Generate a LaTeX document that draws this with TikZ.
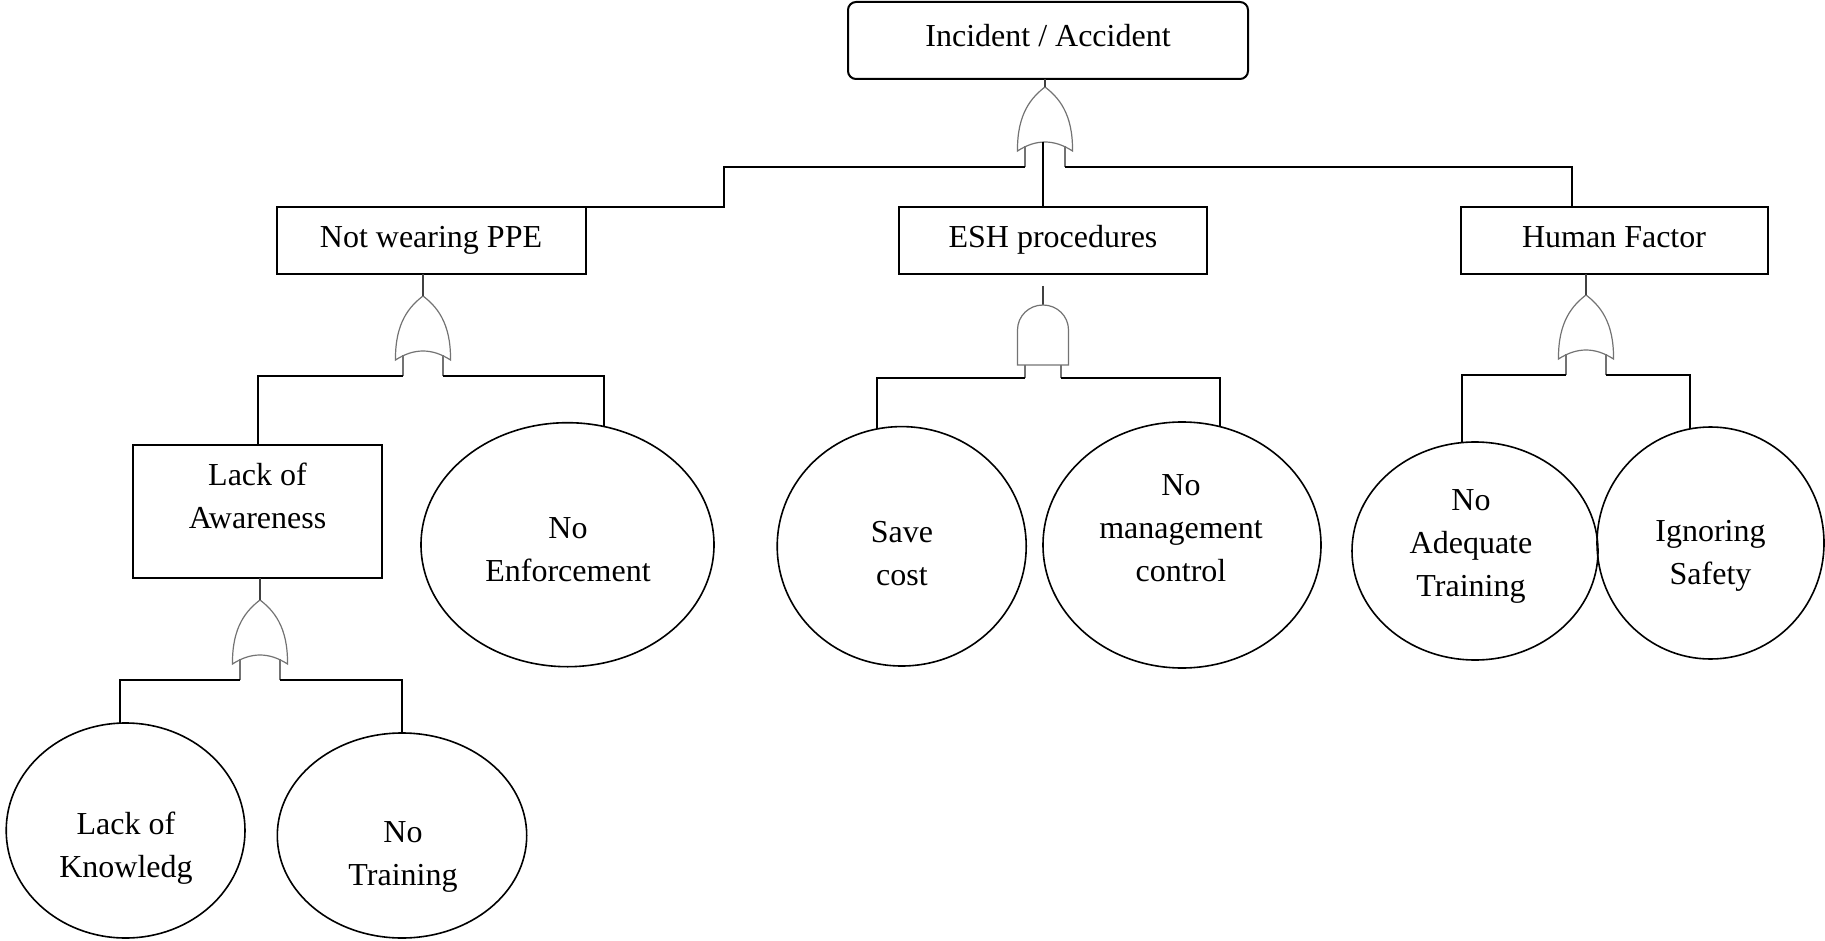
\documentclass[tikz,border=0pt]{standalone}
\usepackage{fontspec}
\setmainfont{Liberation Serif}
\usetikzlibrary{shapes.geometric}

% or gate: tip at #2, legs end 80 below
\newcommand{\orgate}[2]{%
\begin{scope}[shift={(#2)}]
\draw[gate] (-27.5,64) .. controls (-28,26) and (-13,10) .. (0,0) .. controls (13,10) and (28,26) .. (27.5,64) .. controls (9,52) and (-9,52) .. cycle;
\draw[gate] (-20,59) -- (-20,80) coordinate (#1-l);
\draw[gate] (20,59) -- (20,80) coordinate (#1-r);
\coordinate (#1-t) at (0,0);
\coordinate (#1-c) at (-2,55);
\end{scope}}

% and gate: dome top at #2
\newcommand{\andgate}[2]{%
\begin{scope}[shift={(#2)}]
\draw[stem] (0,-19) -- (0,0);
\draw[gate] (-25.5,60) -- (-25.5,25) .. controls (-25.5,11) and (-14,0) .. (0,0) .. controls (14,0) and (25.5,11) .. (25.5,25) -- (25.5,60) -- cycle;
\draw[gate] (-18,60) -- (-18,73) coordinate (#1-l);
\draw[gate] (18,60) -- (18,73) coordinate (#1-r);
\coordinate (#1-t) at (0,0);
\end{scope}}

\begin{document}
\begin{tikzpicture}[x=0.5pt, y=-0.5pt]
\tikzstyle{box} = [draw, line width=1pt, rectangle, inner sep=0pt, outer sep=0pt]
\tikzstyle{event} = [draw, line width=0.8pt, ellipse, inner sep=0pt, outer sep=0pt]
\tikzstyle{txt} = [inner sep=0pt, anchor=south, align=center, text depth=0pt, font=\fontsize{16pt}{21.5pt}\selectfont]
\tikzstyle{conn} = [line width=1pt]
\tikzstyle{gate} = [draw=black!55, line width=0.6pt]
\tikzstyle{stem} = [draw=black!75, line width=0.6pt]
\useasboundingbox (0,0) rectangle (1825,941);

% boxes
\node[box, rounded corners=4pt, minimum width=200pt, minimum height=38.5pt] (top) at (1048,40.5) {};
\node[box, minimum width=154.5pt, minimum height=33.5pt] (ppe) at (431.5,240.5) {};
\node[box, minimum width=154.25pt, minimum height=33.5pt] (esh) at (1053,240.5) {};
\node[box, minimum width=153.5pt, minimum height=33.5pt] (hf) at (1614.5,240.5) {};
\node[box, minimum width=124.5pt, minimum height=66.5pt] (loa) at (257.5,511.5) {};

% basic events
\node[event, minimum width=146.5pt, minimum height=122pt] (ne) at (567.5,544.7) {};
\node[event, minimum width=124.5pt, minimum height=119.7pt] (sc) at (901.7,546.3) {};
\node[event, minimum width=139pt, minimum height=123pt] (mc) at (1182,545) {};
\node[event, minimum width=123pt, minimum height=109pt] (at) at (1475,551) {};
\node[event, minimum width=113.5pt, minimum height=116pt] (is) at (1710.5,543) {};
\node[event, minimum width=119.4pt, minimum height=107.5pt] (lk) at (125.6,830.5) {};
\node[event, minimum width=124.7pt, minimum height=102.5pt] (nt) at (402,835.5) {};

% texts
\node[txt] (top-t) at (1048,46.5) {Incident / Accident};
\node[txt] (ppe-t) at (431,248) {Not wearing PPE};
\node[txt] (esh-t) at (1053,248) {ESH procedures};
\node[txt] (hf-t) at (1614,248) {Human Factor};
\node[txt] (loa-t) at (257.5,529) {Lack of\\Awareness};
\node[txt] (ne-t) at (568,582) {No\\Enforcement};
\node[txt] (sc-t) at (902,586) {Save\\cost};
\node[txt] (mc-t) at (1181,582) {No\\management\\control};
\node[txt] (at-t) at (1471,597) {No\\Adequate\\Training};
\node[txt] (is-t) at (1710.5,585) {Ignoring\\Safety};
\node[txt] (lk-t) at (126,878) {Lack of\\Knowledg};
\node[txt] (nt-t) at (403,886) {No\\Training};

% gates
\orgate{g0}{1045,87}
\orgate{g1}{423,296}
\andgate{g2}{1043,305}
\orgate{g3}{1586,295}
\orgate{g4}{260,600}

\draw[stem] (top.south -| g0-t) -- (g0-t);
\draw[stem] (ppe.south -| g1-t) -- (g1-t);
\draw[stem] (hf.south -| g3-t) -- (g3-t);
\draw[stem] (loa.south -| g4-t) -- (g4-t);

% connectors
\coordinate (k1) at (724,207);
\coordinate (k2) at (1572,207);
\draw[conn] (g0-l) -| (k1) -- (ppe.north east);
\draw[conn] (g0-r) -| (k2);
\draw[conn] (g0-c) -- (g0-c |- esh.north);
\draw[conn] (g1-l) -| (loa.north);
\draw[conn] (g1-r) -| (ne.73);
\draw[conn] (g2-l) -| (sc.102);
\draw[conn] (g2-r) -| (mc.72);
\draw[conn] (g3-l) -| (at.97);
\draw[conn] (g3-r) -| (is.100);
\draw[conn] (g4-l) -| (lk.93);
\draw[conn] (g4-r) -| (nt.90);
\end{tikzpicture}
\end{document}
